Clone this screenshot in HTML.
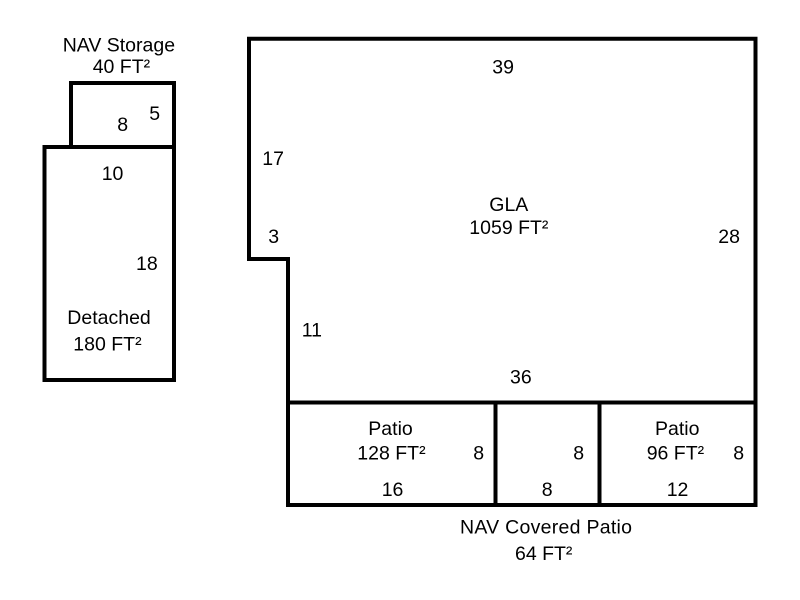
<!DOCTYPE html>
<html>
<head>
<meta charset="utf-8">
<style>
  html, body { margin: 0; padding: 0; background: #ffffff; }
  svg { display: block; }
  text { font-family: "Liberation Sans", Arial, sans-serif; font-size: 19.5px; fill: #000; }
</style>
</head>
<body>
<svg width="800" height="600" viewBox="0 0 800 600" xmlns="http://www.w3.org/2000/svg">
  <rect x="0" y="0" width="800" height="600" fill="#fff"/>
  <g fill="none" stroke="#000" stroke-width="4" stroke-linejoin="miter" stroke-linecap="square">
    <!-- NAV Storage -->
    <rect x="71" y="83" width="103" height="64"/>
    <!-- Detached -->
    <rect x="44.5" y="147" width="129.5" height="233"/>
    <!-- GLA -->
    <path d="M249,38.8 L755.5,38.8 L755.5,402.5 L288,402.5 L288,259 L249,259 Z"/>
    <!-- Patios row -->
    <rect x="288" y="402.5" width="467.5" height="102.5"/>
    <line x1="495.5" y1="402.5" x2="495.5" y2="505"/>
    <line x1="599.5" y1="402.5" x2="599.5" y2="505"/>
  </g>
  <g>
    <text x="62.7" y="51.7">NAV Storage</text>
    <text x="92.7" y="73">40 FT²</text>
    <text x="117.3" y="131">8</text>
    <text x="149.3" y="120">5</text>
    <text x="101.7" y="180">10</text>
    <text x="136" y="270">18</text>
    <text x="67.3" y="324">Detached</text>
    <text x="73.3" y="350.7">180 FT²</text>

    <text x="262.3" y="165">17</text>
    <text x="268.3" y="243">3</text>
    <text x="301.7" y="336.7">11</text>
    <text x="492.3" y="73.3">39</text>
    <text x="489.3" y="211">GLA</text>
    <text x="469.3" y="234">1059 FT²</text>
    <text x="718.3" y="243">28</text>
    <text x="510" y="383.3">36</text>

    <text x="368.3" y="435">Patio</text>
    <text x="357.3" y="459.3">128 FT²</text>
    <text x="473.3" y="459.3">8</text>
    <text x="573.3" y="459.3">8</text>
    <text x="655" y="435">Patio</text>
    <text x="646.7" y="459.3">96 FT²</text>
    <text x="733.3" y="459.3">8</text>
    <text x="381.7" y="496">16</text>
    <text x="541.7" y="496">8</text>
    <text x="666.7" y="496">12</text>

    <text x="460" y="533.3" textLength="172" lengthAdjust="spacing">NAV Covered Patio</text>
    <text x="515" y="560">64 FT²</text>
  </g>
</svg>
</body>
</html>
